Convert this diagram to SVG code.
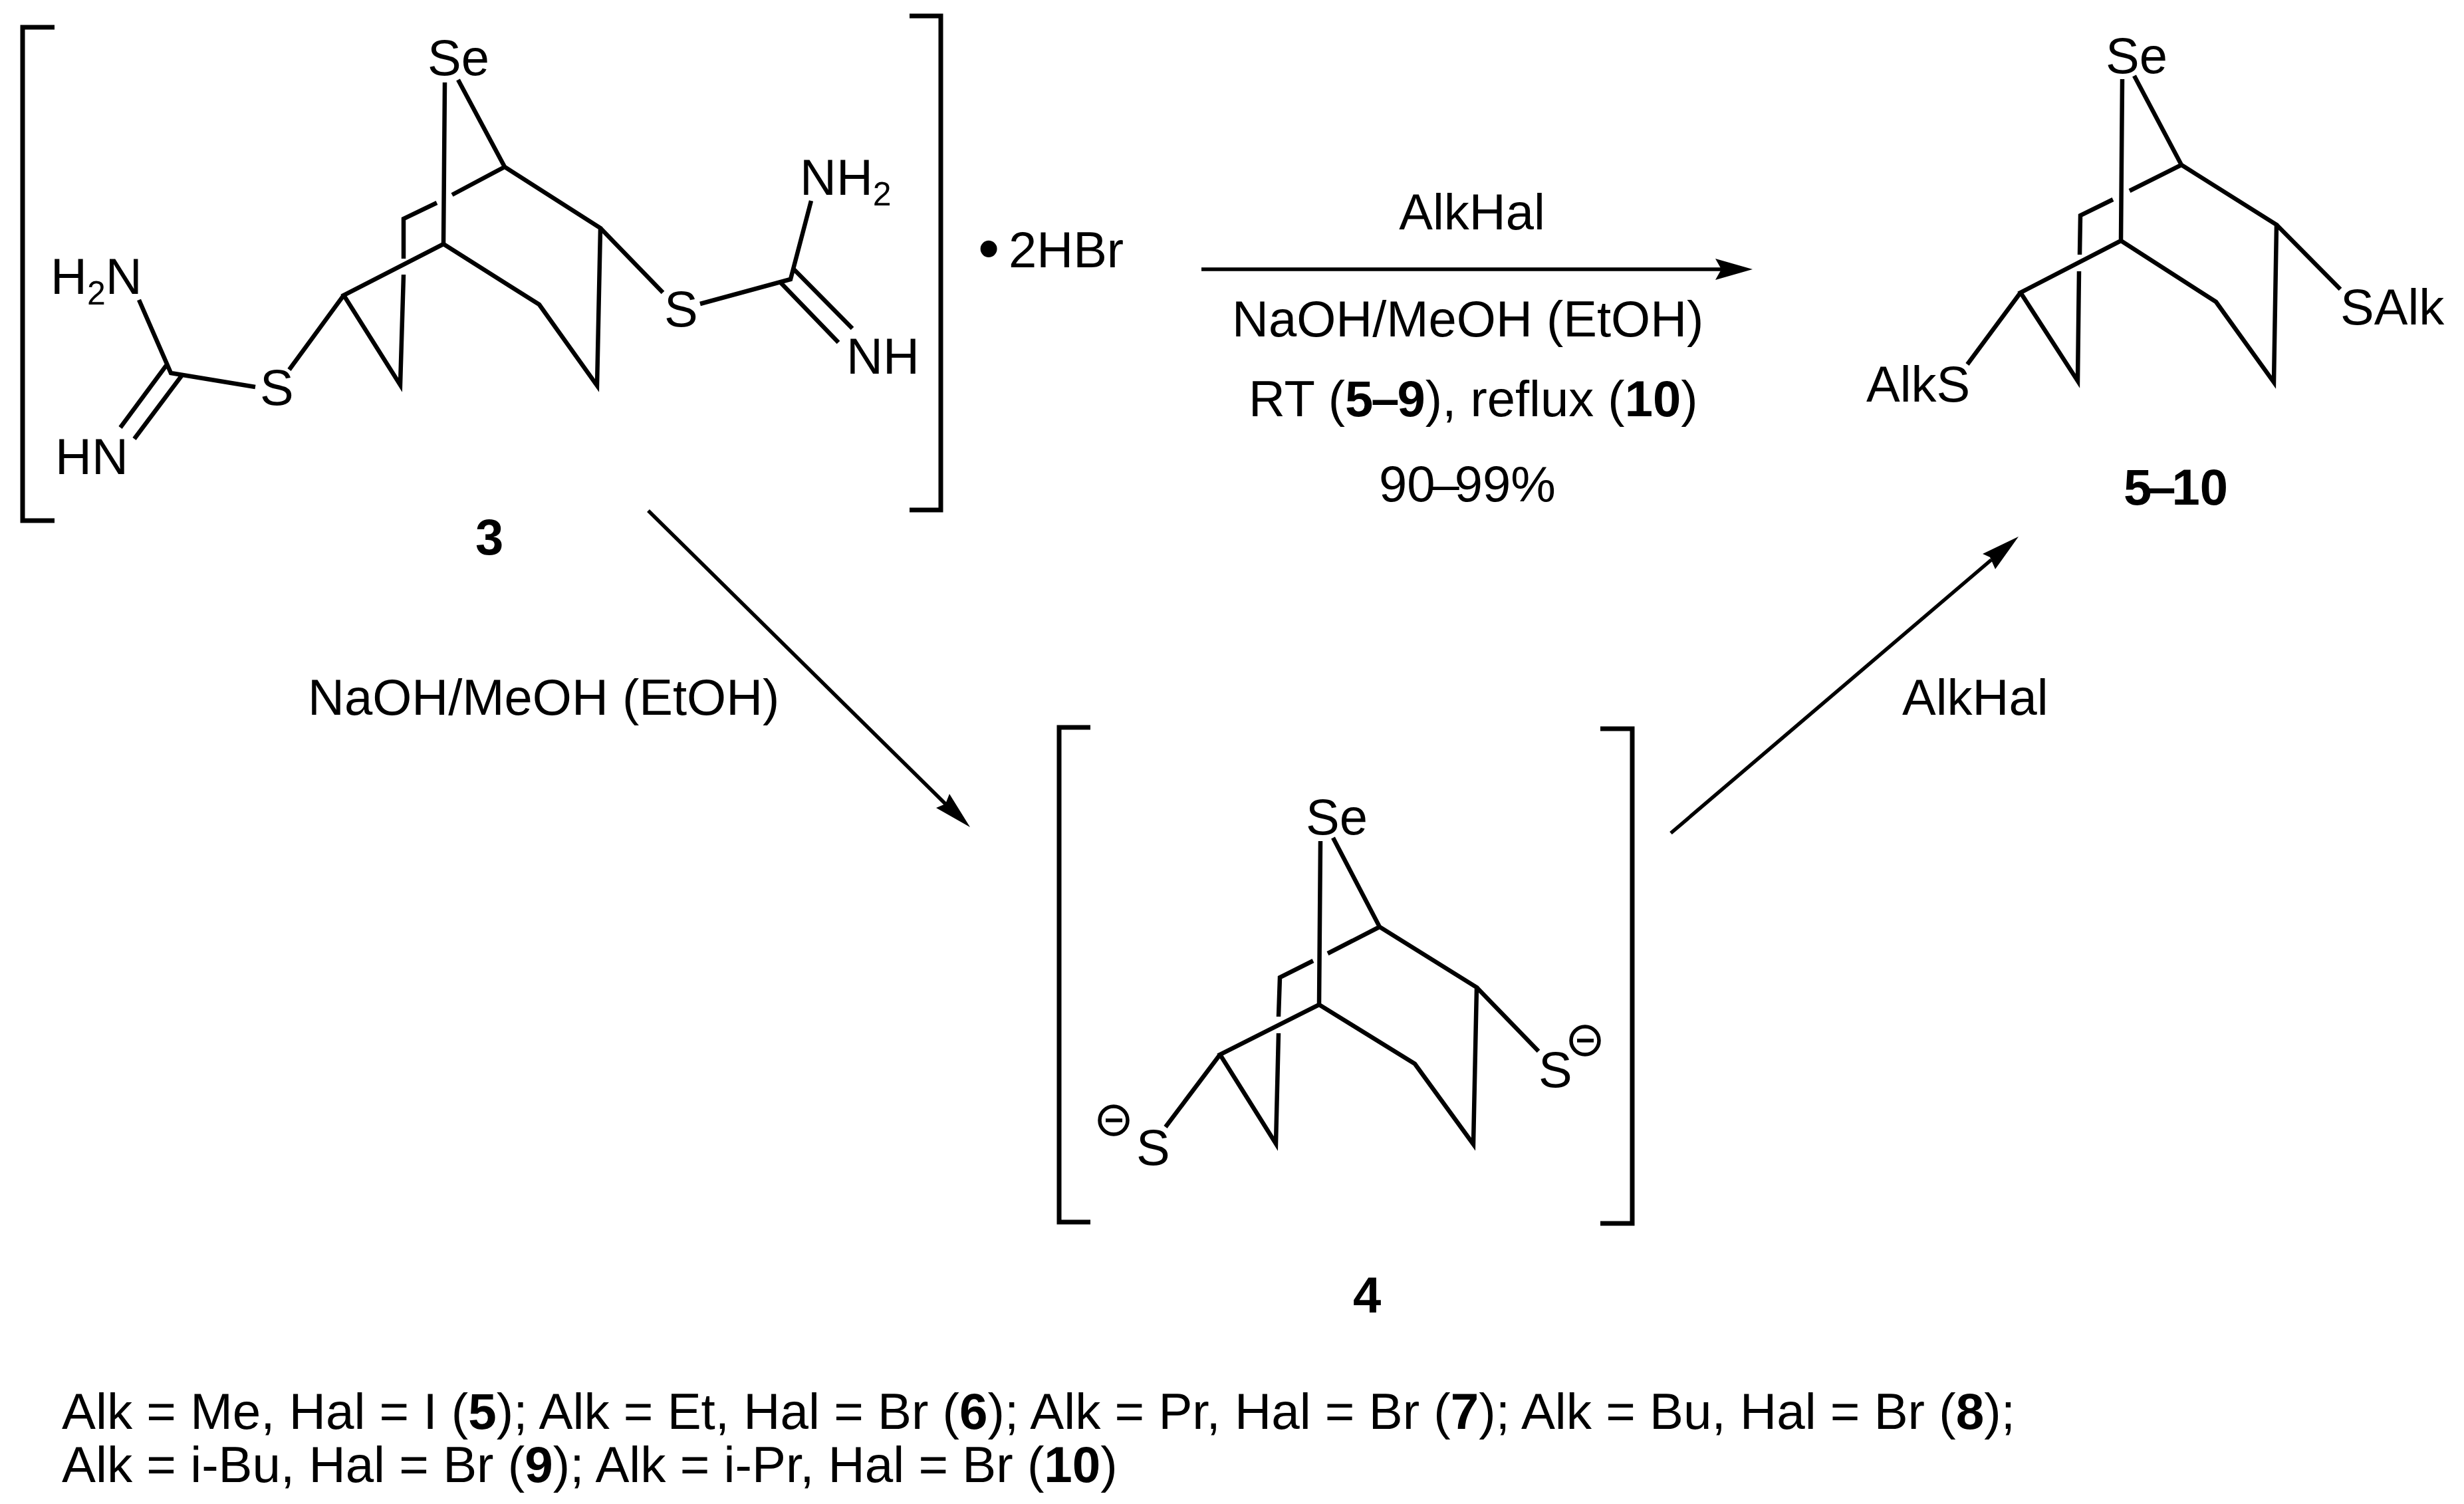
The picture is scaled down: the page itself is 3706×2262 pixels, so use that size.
<svg xmlns="http://www.w3.org/2000/svg" width="3706" height="2262" viewBox="0 0 3706 2262">
<style>
text{font-family:"Liberation Sans",Arial,sans-serif;font-size:76px;fill:#000}
.n{font-size:76.4px}
.s{font-size:50px}
.b{font-weight:bold}
path,line,circle{fill:none;stroke:#000;stroke-width:6.5}
.k{stroke-width:7}
.c{stroke-width:5.5}
.h{fill:#000;stroke:none}
</style>
<rect width="3706" height="2262" fill="#fff"/>
<g id="compound-3">
<path class="k" d="M82 41H34V783H82M1368 24H1415V767H1368"/>
<path d="M669 124L667 367M689 120L759 251L680 293M657 305L607 329V389M607 413L602 579L517 444L667 367L811 458L898 580L903 343L759 251M517 444L435 556M903 343L997 440M384 582L257 561L209 451M252 547L181 643M274 564L202 660M1053 457L1189 420L1220 302M1194 405L1282 494M1174 425L1261 515"/>
<text x="643" y="113">Se</text>
<text x="999" y="491">S</text>
<text x="391" y="609">S</text>
<text x="76" y="442">H<tspan class="s" dy="16">2</tspan><tspan dy="-16">N</tspan></text>
<text x="83" y="713">HN</text>
<text x="1203" y="293">NH<tspan class="s" dy="16">2</tspan></text>
<text x="1273" y="562">NH</text>
<text class="b" x="715" y="834">3</text>
<text x="1471" y="405" style="font-size:92px">•</text>
<text x="1517" y="402">2HBr</text>
</g>
<g id="compound-4">
<path class="k" d="M1640 1094H1593V1838H1640M2407 1096H2455V1840H2407"/>
<path d="M1986 1265L1984 1511M2005 1260L2075 1394L1997 1434M1975 1445L1925 1470L1923 1529M1923 1554L1919 1720L1835 1586L1984 1511L2128 1600L2216 1721L2221 1485L2075 1394M1835 1586L1753 1695M2221 1485L2314 1581"/>
<text x="1964" y="1255">Se</text>
<text x="2314" y="1635">S</text>
<text x="1709" y="1752">S</text>
<circle class="c" cx="2384" cy="1565" r="21"/><line class="c" x1="2372" y1="1565" x2="2397" y2="1565"/>
<circle class="c" cx="1675" cy="1685" r="21"/><line class="c" x1="1663" y1="1685" x2="1688" y2="1685"/>
<text class="b" x="2035" y="1974">4</text>
</g>
<g id="compound-5-10">
<path d="M3192 119L3190 362M3210 114L3281 248L3203 287M3178 300L3129 324L3128 383M3127 408L3125 573L3039 440L3190 362L3333 454L3420 575L3424 338L3281 248M3039 440L2959 548M3424 338L3520 435"/>
<text x="3167" y="110">Se</text>
<text x="3520" y="488">SAlk</text>
<text x="2807" y="604">AlkS</text>
<text class="b" x="3194" y="759">5<tspan dx="-6">–</tspan><tspan dx="-6">10</tspan></text>
</g>
<g id="connectors">
<line class="c" x1="1807" y1="405" x2="2595" y2="405"/>
<path class="h" d="M2636 405L2580 389L2589 405L2580 421Z"/>
<line class="c" x1="975" y1="768" x2="1425" y2="1212"/>
<path class="h" d="M1459 1244L1428 1194L1422 1209L1408 1215Z"/>
<line class="c" x1="2513" y1="1253" x2="2995" y2="842"/>
<path class="h" d="M3036 807L2982 833L2993 838L3001 856Z"/>
</g>
<g id="labels">
<text x="2214" y="345" text-anchor="middle">AlkHal</text>
<text x="1853" y="506">NaOH/MeOH (EtOH)</text>
<text x="1878" y="626">RT (<tspan class="b">5<tspan dx="-3">–</tspan><tspan dx="-3">9</tspan></tspan>), reflux (<tspan class="b">10</tspan>)</text>
<text x="2074" y="754">90<tspan dx="-6">–</tspan><tspan dx="-7">99%</tspan></text>
<text x="463" y="1075">NaOH/MeOH (EtOH)</text>
<text x="2861" y="1075">AlkHal</text>
<text class="n" x="93" y="2149">Alk = Me, Hal = I (<tspan class="b">5</tspan>); Alk = Et, Hal = Br (<tspan class="b">6</tspan>); Alk = Pr, Hal = Br (<tspan class="b">7</tspan>); Alk = Bu, Hal = Br (<tspan class="b">8</tspan>);</text>
<text class="n" x="93" y="2229">Alk = i-Bu, Hal = Br (<tspan class="b">9</tspan>); Alk = i-Pr, Hal = Br (<tspan class="b">10</tspan>)</text>
</g>
</svg>
